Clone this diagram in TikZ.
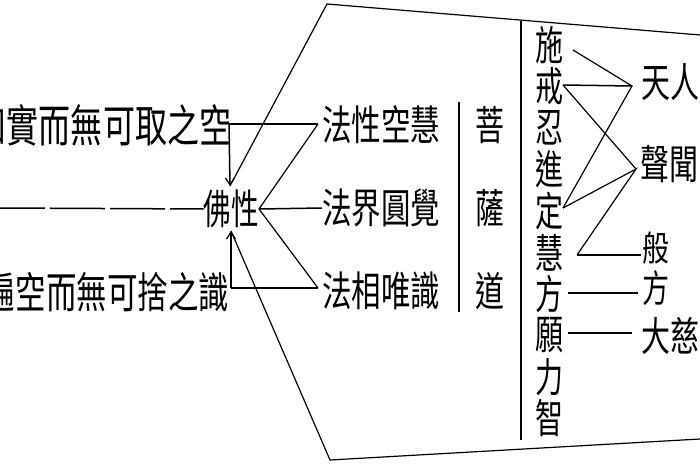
\documentclass[tikz,border=0pt]{standalone}
\usepackage{graphicx}
\usepackage{fontspec}
\newfontfamily\cjk{Noto Sans CJK TC}
\usetikzlibrary{arrows.meta}
\newcommand\zhtxt[3]{{\fontsize{#1}{#1}\selectfont\scalebox{1}[#2]{#3}}}
\tikzset{
  lab/.style={inner sep=0pt, outer sep=0pt, font=\cjk},
  conn/.style={line width=1.5pt},
  diag/.style={line width=1.2pt},
  arr/.style={-{Straight Barb[length=7pt,width=9pt,line width=1.2pt]}}
}
\begin{document}
\begin{tikzpicture}[x=1pt,y=-1pt]
\useasboundingbox (0,0) rectangle (700,470);
\clip (0,0) rectangle (700,470);

% left texts
\node[lab,anchor=east] (kong) at (231,125) {\zhtxt{32}{1.4}{如實而無可取之空}};
\node[lab,anchor=east] (shi)  at (229,292) {\zhtxt{30.5}{1.4}{遍空而無可捨之識}};
\node[lab] (fo) at (231,209) {\zhtxt{27.5}{1.5}{佛性}};

% middle texts
\node[lab,anchor=west] (fx) at (322,125) {\zhtxt{29.5}{1.4}{法性空慧}};
\node[lab,anchor=west] (fj) at (322,208) {\zhtxt{29.5}{1.4}{法界圓覺}};
\node[lab,anchor=west] (fz) at (322,291) {\zhtxt{29.5}{1.4}{法相唯識}};
\node[lab] (pu)  at (490,125) {\zhtxt{29}{1.4}{菩}};
\node[lab] (sa)  at (490,208) {\zhtxt{29}{1.4}{薩}};
\node[lab] (dao) at (490,291) {\zhtxt{29}{1.4}{道}};

% right column
\foreach \c [count=\i from 0] in {施,戒,忍,進,定,慧,方,願,力,智}
  \node[lab] (p\i) at (549,{45+41.5*\i}) {\zhtxt{28}{1.45}{\c}};

% right labels
\node[lab,anchor=west] (tianren) at (641,82)  {\zhtxt{29}{1.4}{天人}};
\node[lab,anchor=west] (shengwen) at (640,164) {\zhtxt{29}{1.4}{聲聞}};
\node[lab] (ban)  at (656,248) {\zhtxt{27}{1.3}{般}};
\node[lab] (fang) at (656,288) {\zhtxt{27}{1.4}{方}};
\node[lab,anchor=west] (daci) at (641,336) {\zhtxt{29}{1.4}{大慈}};

% coordinates
\coordinate (tl) at (327,4);
\coordinate (tr) at (700,35);
\coordinate (bl) at (330,460);
\coordinate (br) at (700,439);
\coordinate (fotop) at (230,186);
\coordinate (fobot) at (231,231);
\coordinate (apex) at (259,209);
\coordinate (fxj) at (318,124);
\coordinate (fzj) at (318,288);
\coordinate (kc) at (229,124);
\coordinate (sc) at (231,288);
\coordinate (lft) at (0,208);

% left network
\draw[conn, dash pattern=on 55pt off 5pt, dash phase=10pt] (lft) -- (fo.west);
\draw[conn] (fxj) -- (kc);
\draw[conn,arr] (kc) -- (fotop);
\draw[conn] (fzj) -- (sc);
\draw[conn,arr] (sc) -- (fobot);
\draw[diag] (fxj) -- (apex) -- (fzj);
\draw[conn] (apex) -- (fj.west);
\draw[diag] (tr) -- (tl) -- (fotop);
\draw[diag] (fobot) -- (bl) -- (br);

% vertical lines
\coordinate (v1a) at (459,102); \coordinate (v1b) at (459,312);
\coordinate (v2a) at (521,21);  \coordinate (v2b) at (521,440);
\draw[conn] (v1a) -- (v1b);
\draw[conn] (v2a) -- (v2b);

% right network
\coordinate (a1) at (573,50);
\coordinate (tj) at (632,86);
\coordinate (j2) at (563,85);
\coordinate (sj) at (636,169);
\coordinate (d1) at (563,208);
\coordinate (b1) at (577,255);
\coordinate (bj) at (641,255);
\coordinate (f1) at (568,293);
\coordinate (fj2) at (638,293);
\coordinate (dc1) at (568,333);
\coordinate (dcj) at (632,333);
\draw[diag] (a1) -- (tj) -- (d1);
\draw[conn] (j2) -- (tj);
\draw[diag] (j2) -- (sj);
\draw[diag] (d1) -- (sj) -- (b1);
\draw[conn] (b1) -- (bj);
\draw[conn] (f1) -- (fj2);
\draw[conn] (dc1) -- (dcj);
\end{tikzpicture}
\end{document}
